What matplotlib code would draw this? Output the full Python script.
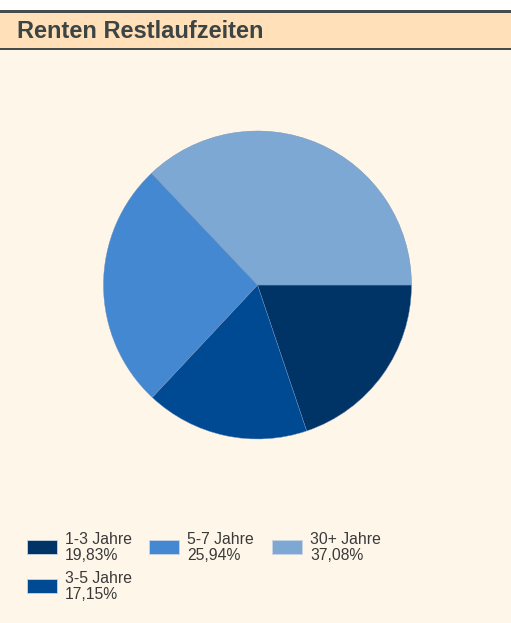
import numpy as np
import matplotlib.pyplot as plt
from matplotlib.patches import Rectangle

plt.rcParams['font.family'] = ['Liberation Sans', 'DejaVu Sans']

#### data ####
labels = ["1-3 Jahre", "3-5 Jahre", "5-7 Jahre", "30+ Jahre"]
values = [19.83, 17.15, 25.94, 37.08]
colors = ["#003366", "#004a94", "#4488d2", "#7ea8d4"]
title = "Renten Restlaufzeiten"

W, H = 511, 623
fig = plt.figure(figsize=(W/100, H/100), dpi=100)
fig.patch.set_facecolor("#fff6ea")

# background / header drawn in pixel coords
bg = fig.add_axes([0, 0, 1, 1])
bg.set_xlim(0, W)
bg.set_ylim(H, 0)
bg.axis("off")
bg.add_patch(Rectangle((0, 0), W, 10, color="white", lw=0))
bg.add_patch(Rectangle((0, 10), W, 40, color="#464c4c", lw=0))
bg.add_patch(Rectangle((0, 12.5), W, 35.5, color="#ffe0b8", lw=0))
bg.text(17, 31.5, title, fontsize=17, fontweight="bold", color="#3c4444",
        va="center", ha="left")

#### pie ####
cx, cy, r = 257.5, 285, 154
ax = fig.add_axes([(cx - r)/W, 1 - (cy + r)/H, 2*r/W, 2*r/H])
ax.pie(values, colors=colors, startangle=0, counterclock=False,
       wedgeprops=dict(linewidth=0.3, edgecolor="#6f8fb8"))
ax.set_aspect("equal")
ax.set_xlim(-1, 1)
ax.set_ylim(-1, 1)

#### legend (column major, 3 columns) ####
col_x = [27, 149, 272]
row_y = [540, 579]
slots = [(0, 0), (0, 1), (1, 0), (2, 0)]
for (c, rr), lab, v, col in zip(slots, labels, values, colors):
    x, y = col_x[c], row_y[rr]
    bg.add_patch(Rectangle((x, y), 30, 14, facecolor=col, edgecolor="#c8d4e4", lw=0.6))
    txt = lab + "\n" + ("%.2f" % v).replace(".", ",") + "%"
    bg.text(x + 38, y + 7.5, txt, fontsize=11.3, color="#3a3a3a",
            va="center", ha="left", linespacing=1.1)

plt.savefig("out.png", dpi=100, facecolor=fig.get_facecolor())
